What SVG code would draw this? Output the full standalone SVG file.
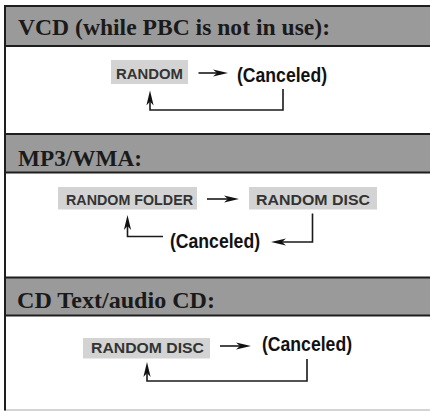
<svg xmlns="http://www.w3.org/2000/svg" width="430" height="411" viewBox="0 0 430 411">
<style>
.hdr{fill:#9a9a9a}
.rule{stroke:#1e1e1e;stroke-width:2;fill:none}
.title{font-family:"Liberation Serif","Times New Roman",serif;font-weight:bold;font-size:23px;fill:#1a1a1a}
.box{fill:#d3d3d3}
.lbl{font-family:"Liberation Sans",Arial,sans-serif;font-weight:bold;font-size:15px;fill:#333}
.cx{font-family:"Liberation Sans",Arial,sans-serif;font-weight:bold;font-size:21px;fill:#111}
.ln{stroke:#1a1a1a;stroke-width:1.6;fill:none}
.ah{fill:#111}
</style>
<defs>
<path id="ahR" d="M0,0 L-15,-3.6 L-11,0 L-15,3.6 Z"/>
</defs>
<rect x="0" y="0" width="430" height="411" fill="#fff"/>
<g id="frame">
<rect class="hdr" x="5" y="6" width="425" height="40"/>
<rect class="hdr" x="5" y="134" width="425" height="38.5"/>
<rect class="hdr" x="5" y="277.5" width="425" height="38"/>
<line class="rule" x1="4" y1="6" x2="430" y2="6"/>
<line class="rule" x1="4" y1="46" x2="430" y2="46" stroke-width="1.6"/>
<line class="rule" x1="4" y1="134" x2="430" y2="134"/>
<line class="rule" x1="4" y1="172.5" x2="430" y2="172.5" stroke-width="1.4"/>
<line class="rule" x1="4" y1="277.5" x2="430" y2="277.5" stroke-width="1.4"/>
<line class="rule" x1="4" y1="315.5" x2="430" y2="315.5" stroke-width="1.2"/>
<line x1="4" y1="410" x2="430" y2="410" stroke="#aaa" stroke-width="1.2"/>
<line class="rule" x1="5" y1="5" x2="5" y2="410.5"/>
</g>
<g id="titles">
<text class="title" x="18" y="35" textLength="312" lengthAdjust="spacingAndGlyphs">VCD (while PBC is not in use):</text>
<text class="title" x="18" y="165.5" textLength="124" lengthAdjust="spacingAndGlyphs">MP3/WMA:</text>
<text class="title" x="17" y="307.5" textLength="198" lengthAdjust="spacingAndGlyphs">CD Text/audio CD:</text>
</g>
<g id="vcd-random">
<rect class="box" x="111" y="60" width="77" height="24"/>
<text class="lbl" x="116" y="78.5" textLength="67" lengthAdjust="spacingAndGlyphs">RANDOM</text>
</g>
<g id="vcd-canceled">
<text class="cx" x="237" y="81.5" textLength="90" lengthAdjust="spacingAndGlyphs">(Canceled)</text>
</g>
<g id="mp3-folder">
<rect class="box" x="58" y="187" width="139" height="22.5"/>
<text class="lbl" x="66" y="205" textLength="127" lengthAdjust="spacingAndGlyphs">RANDOM FOLDER</text>
</g>
<g id="mp3-disc">
<rect class="box" x="249" y="187" width="128" height="22.5"/>
<text class="lbl" x="256" y="205" textLength="114" lengthAdjust="spacingAndGlyphs">RANDOM DISC</text>
</g>
<g id="mp3-canceled">
<text class="cx" x="170" y="248" textLength="90" lengthAdjust="spacingAndGlyphs">(Canceled)</text>
</g>
<g id="cd-disc">
<rect class="box" x="83" y="338" width="127" height="20.5"/>
<text class="lbl" x="91" y="353" textLength="113" lengthAdjust="spacingAndGlyphs">RANDOM DISC</text>
</g>
<g id="cd-canceled">
<text class="cx" x="262" y="350.5" textLength="90" lengthAdjust="spacingAndGlyphs">(Canceled)</text>
</g>
<g id="connectors">
<line class="ln" x1="198.5" y1="73" x2="218" y2="73"/>
<use href="#ahR" class="ah" transform="translate(228,73)"/>
<polyline class="ln" points="283,89 283,110 150,110 150,100"/>
<use href="#ahR" class="ah" transform="translate(150,90.5) rotate(-90)"/>
<line class="ln" x1="207" y1="199" x2="229" y2="199"/>
<use href="#ahR" class="ah" transform="translate(239,199)"/>
<polyline class="ln" points="312.5,213.5 312.5,242 280,242"/>
<use href="#ahR" class="ah" transform="translate(271,242) rotate(180)"/>
<polyline class="ln" points="163,236.5 127.5,236.5 127.5,225"/>
<use href="#ahR" class="ah" transform="translate(127.5,215) rotate(-90)"/>
<line class="ln" x1="220" y1="346" x2="241" y2="346"/>
<use href="#ahR" class="ah" transform="translate(251,346)"/>
<polyline class="ln" points="307,359 307,381 147,381 147,372"/>
<use href="#ahR" class="ah" transform="translate(147,362) rotate(-90)"/>
</g>
</svg>
